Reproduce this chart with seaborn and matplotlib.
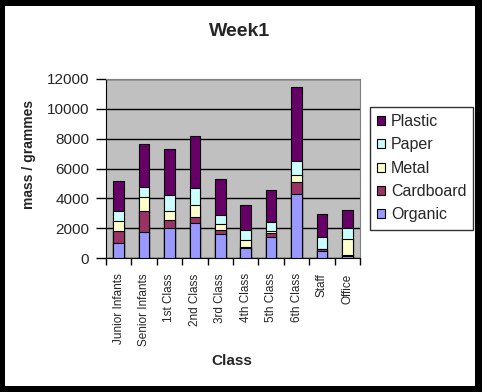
import numpy as np
import pandas as pd
import matplotlib
matplotlib.use('Agg')
import matplotlib.pyplot as plt
from matplotlib.patches import Patch, Rectangle
import seaborn as sns

sns.set_style('white')
plt.rcParams['font.family'] = ['Liberation Sans', 'DejaVu Sans']

classes = ['Junior Infants', 'Senior Infants', '1st Class', '2nd Class', '3rd Class',
           '4th Class', '5th Class', '6th Class', 'Staff', 'Office']
organic = [1000, 1730, 2000, 2330, 1600, 650, 1440, 4270, 440, 110]
cardboard = [780, 1400, 530, 420, 270, 100, 220, 800, 180, 110]
metal = [670, 930, 600, 780, 400, 450, 180, 470, 0, 1040]
paper = [670, 670, 1070, 1130, 600, 710, 600, 930, 780, 730]
plastic = [2020, 2930, 3130, 3530, 2400, 1620, 2090, 5020, 1530, 1200]

materials = ['Organic', 'Cardboard', 'Metal', 'Paper', 'Plastic']
palette = {'Organic': '#9999FF', 'Cardboard': '#993366', 'Metal': '#FFFFCC',
           'Paper': '#CCFFFF', 'Plastic': '#660066'}

df = pd.DataFrame({'Class': classes, 'Organic': organic, 'Cardboard': cardboard,
                   'Metal': metal, 'Paper': paper, 'Plastic': plastic})
cum = df[materials].cumsum(axis=1)

fig = plt.figure(figsize=(4.82, 3.92), dpi=100, facecolor='black')
fig.patches.append(Rectangle((5/482, 6/392), 470/482, 380/392, transform=fig.transFigure,
                             facecolor='white', edgecolor='none', zorder=-10))
ax = fig.add_axes([106/482, 134/392, 254/482, 179/392])
ax.set_facecolor('#C0C0C0')

# stacked bars drawn as cumulative totals, top layer first
for m in materials[::-1]:
    sns.barplot(x=df['Class'], y=cum[m], color=palette[m], saturation=1, width=0.42,
                edgecolor='black', linewidth=0.8, ax=ax, zorder=3)

ax.set_ylim(0, 12000)
ax.set_xlim(-0.5, 9.5)
ax.set_yticks(np.arange(0, 12001, 2000))
ax.yaxis.grid(True, color='black', linewidth=1)
ax.set_axisbelow(True)
ax.tick_params(axis='y', direction='out', length=7, width=1, color='black', labelsize=11, pad=5, left=True)
ax.set_xticks(range(len(classes)))
ax.set_xticklabels(classes, rotation=90, fontsize=8.5)
ax.set_xticks(np.arange(-0.5, 10, 1), minor=True)
ax.tick_params(axis='x', which='major', length=0, pad=11)
ax.tick_params(axis='x', which='minor', direction='out', length=5, width=1, color='black', bottom=True)
ax.set_xlabel('')
ax.set_ylabel('')
for s in ['top', 'right']:
    ax.spines[s].set_color('#808080')
for s in ['left', 'bottom']:
    ax.spines[s].set_color('black')

fig.text(240/482, 1 - 31/392, 'Week1', ha='center', va='center', fontsize=14, fontweight='bold')
fig.text(29/482, 1 - 154/392, 'mass / grammes', ha='center', va='center', rotation=90,
         fontsize=10, fontweight='bold')
fig.text(232/482, 1 - 361/392, 'Class', ha='center', va='center', fontsize=11, fontweight='bold')

handles = [Patch(facecolor=palette[m], edgecolor='black', linewidth=0.8) for m in materials[::-1]]
leg = fig.legend(handles, materials[::-1], loc='upper left', bbox_to_anchor=(370/482, 1 - 107/392),
                 frameon=True, fancybox=False, edgecolor='black', fontsize=11.5,
                 handlelength=0.5, handleheight=0.5, handletextpad=0.35,
                 labelspacing=0.52, borderpad=0.45, borderaxespad=0)
leg.get_frame().set_linewidth(1)

fig.savefig('out.png', dpi=100, facecolor=fig.get_facecolor())
